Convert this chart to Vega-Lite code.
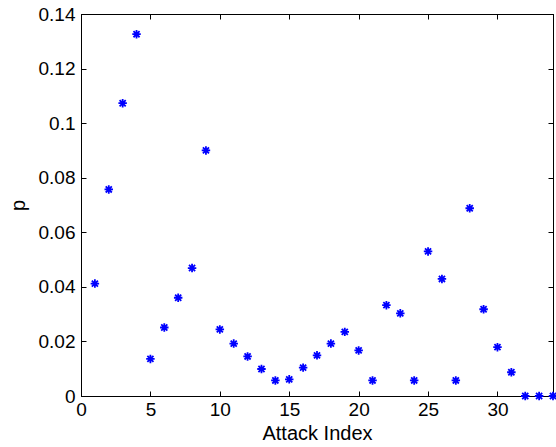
{
  "$schema": "https://vega.github.io/schema/vega-lite/v6.json",
  "width": 472,
  "height": 382,
  "autosize": {"type": "none"},
  "padding": {"left": 81, "top": 14, "right": 3, "bottom": 51},
  "background": "white",
  "config": {
    "view": {"stroke": "black", "strokeWidth": 1},
    "font": "Liberation Sans",
    "axis": {
      "labelFont": "Liberation Sans",
      "titleFont": "Liberation Sans",
      "labelFontSize": 19,
      "titleFontSize": 20,
      "titleFontWeight": "normal",
      "labelColor": "black",
      "titleColor": "black",
      "domainColor": "black",
      "tickColor": "black",
      "grid": false
    }
  },
  "data": {
    "values": [
      {"index": 1, "p": 0.0412},
      {"index": 2, "p": 0.0757},
      {"index": 3, "p": 0.1073},
      {"index": 4, "p": 0.1326},
      {"index": 5, "p": 0.0136},
      {"index": 6, "p": 0.0251},
      {"index": 7, "p": 0.0360},
      {"index": 8, "p": 0.0469},
      {"index": 9, "p": 0.0900},
      {"index": 10, "p": 0.0244},
      {"index": 11, "p": 0.0192},
      {"index": 12, "p": 0.0145},
      {"index": 13, "p": 0.0099},
      {"index": 14, "p": 0.0057},
      {"index": 15, "p": 0.0061},
      {"index": 16, "p": 0.0104},
      {"index": 17, "p": 0.0149},
      {"index": 18, "p": 0.0192},
      {"index": 19, "p": 0.0235},
      {"index": 20, "p": 0.0167},
      {"index": 21, "p": 0.0057},
      {"index": 22, "p": 0.0333},
      {"index": 23, "p": 0.0303},
      {"index": 24, "p": 0.0057},
      {"index": 25, "p": 0.0530},
      {"index": 26, "p": 0.0429},
      {"index": 27, "p": 0.0057},
      {"index": 28, "p": 0.0688},
      {"index": 29, "p": 0.0318},
      {"index": 30, "p": 0.0179},
      {"index": 31, "p": 0.0087},
      {"index": 32, "p": 0.0},
      {"index": 33, "p": 0.0},
      {"index": 34, "p": 0.0}
    ]
  },
  "layer": [
    {
      "mark": {
        "type": "point",
        "shape": "M-1,0L1,0M0,-1L0,1M-0.72,-0.72L0.72,0.72M-0.72,0.72L0.72,-0.72",
        "filled": false,
        "stroke": "#0000FF",
        "strokeWidth": 1.8,
        "size": 72,
        "opacity": 1
      },
      "encoding": {
        "x": {
          "field": "index", "type": "quantitative",
          "scale": {"domain": [0, 34], "nice": false, "zero": false},
          "axis": {
            "title": "Attack Index", "values": [0, 5, 10, 15, 20, 25, 30],
            "tickSize": -5, "labelPadding": 9, "titlePadding": 4,
            "format": "d", "labelFlush": false
          }
        },
        "y": {
          "field": "p", "type": "quantitative",
          "scale": {"domain": [0, 0.14], "nice": false},
          "axis": {
            "title": "p", "values": [0, 0.02, 0.04, 0.06, 0.08, 0.1, 0.12, 0.14],
            "tickSize": -5, "labelPadding": 11, "titlePadding": 10,
            "labelExpr": "datum.value == 0 ? '0' : format(datum.value, '.2~f')",
            "labelFlush": false
          }
        }
      }
    },
    {
      "mark": {"type": "point", "opacity": 0},
      "encoding": {
        "x": {
          "field": "index", "type": "quantitative",
          "axis": {"orient": "top", "title": null, "labels": false, "values": [0, 5, 10, 15, 20, 25, 30], "tickSize": -5}
        },
        "y": {
          "field": "p", "type": "quantitative",
          "axis": {"orient": "right", "title": null, "labels": false, "values": [0, 0.02, 0.04, 0.06, 0.08, 0.1, 0.12, 0.14], "tickSize": -5}
        }
      }
    }
  ],
  "resolve": {"axis": {"x": "independent", "y": "independent"}}
}
